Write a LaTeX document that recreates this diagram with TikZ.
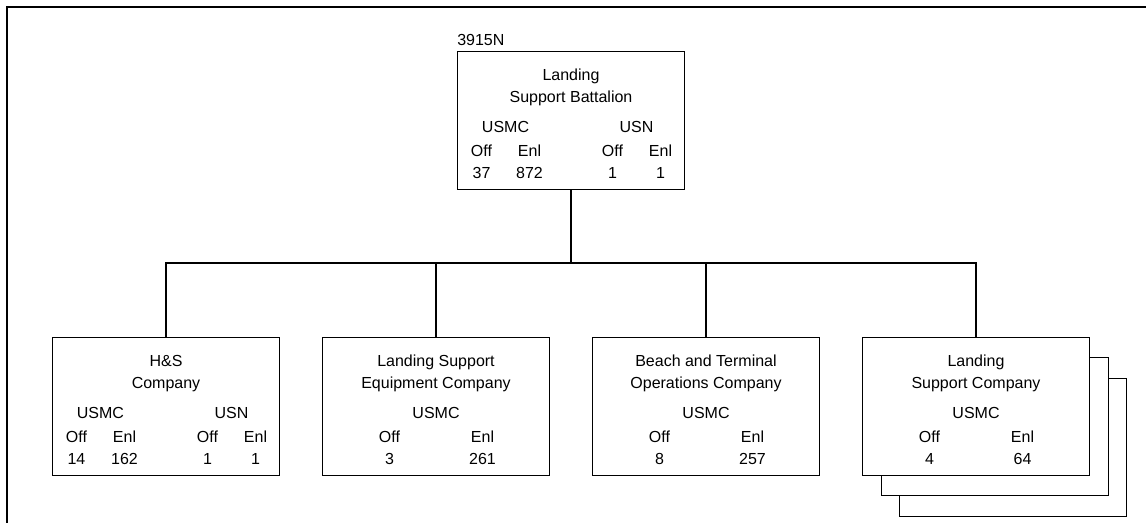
\documentclass[tikz,border=0pt]{standalone}
\usepackage{fontspec}
\setmainfont{Liberation Sans}
\usepackage{array}
\usepackage{tikz}
\usetikzlibrary{positioning}
\setlength{\tabcolsep}{0pt}
\newcolumntype{C}{w{c}{36pt}}
\newcolumntype{G}{w{c}{26.25pt}}
\newcolumntype{W}{w{c}{69.75pt}}
\newcommand{\toprule}{\rule{0pt}{17.5pt}}
\tikzset{
  orgbox/.style={draw, fill=white, line width=0.75pt, minimum width=170.25pt, minimum height=103.5pt, inner sep=0pt, font=\fontsize{12}{16.5}\selectfont},
  orglink/.style={line width=0.8pt},
  framerule/.style={line width=1.5pt}
}
\begin{document}
\begin{tikzpicture}[x=0.75pt,y=-0.75pt]
\useasboundingbox (0,0) rectangle (1146,523);
\draw[framerule] (1146,7) -- (7,7) -- (7,523);

\node[orgbox] (lsb) at (571,121) {\begin{tabular}{CCGCC}
\multicolumn{5}{c}{\toprule Landing}\\
\multicolumn{5}{c}{Support Battalion}\\[6pt]
\multicolumn{2}{c}{USMC} & & \multicolumn{2}{c}{USN}\\[1pt]
Off & Enl & & Off & Enl\\
37 & 872 & & 1 & 1
\end{tabular}};
\node[above right=4pt and 0pt of lsb.north west, inner sep=0pt, font=\fontsize{12}{14}\selectfont] (uic) {3915N};

\node[orgbox] (hs) at (166,407) {\begin{tabular}{CCGCC}
\multicolumn{5}{c}{\toprule H\&S}\\
\multicolumn{5}{c}{Company}\\[6pt]
\multicolumn{2}{c}{USMC} & & \multicolumn{2}{c}{USN}\\[1pt]
Off & Enl & & Off & Enl\\
14 & 162 & & 1 & 1
\end{tabular}};
\node[orgbox] (lse) at (436,407) {\begin{tabular}{WW}
\multicolumn{2}{c}{\toprule Landing Support}\\
\multicolumn{2}{c}{Equipment Company}\\[6pt]
\multicolumn{2}{c}{USMC}\\[1pt]
Off & Enl\\
3 & 261
\end{tabular}};
\node[orgbox] (bto) at (706,407) {\begin{tabular}{WW}
\multicolumn{2}{c}{\toprule Beach and Terminal}\\
\multicolumn{2}{c}{Operations Company}\\[6pt]
\multicolumn{2}{c}{USMC}\\[1pt]
Off & Enl\\
8 & 257
\end{tabular}};
% stacked companies
\node[orgbox] (lsc3) at (1013,448) {};
\node[orgbox] (lsc2) at (995,427) {};
\node[orgbox] (lsc) at (976,407) {\begin{tabular}{WW}
\multicolumn{2}{c}{\toprule Landing}\\
\multicolumn{2}{c}{Support Company}\\[6pt]
\multicolumn{2}{c}{USMC}\\[1pt]
Off & Enl\\
4 & 64
\end{tabular}};

\coordinate (bus) at (571,263);
\draw[orglink] (lsb.south) -- (bus);
\draw[orglink] (hs.north) |- (bus);
\draw[orglink] (lsc.north) |- (bus);
\draw[orglink] (lse.north) -- (lse.north |- bus);
\draw[orglink] (bto.north) -- (bto.north |- bus);
\end{tikzpicture}
\end{document}
